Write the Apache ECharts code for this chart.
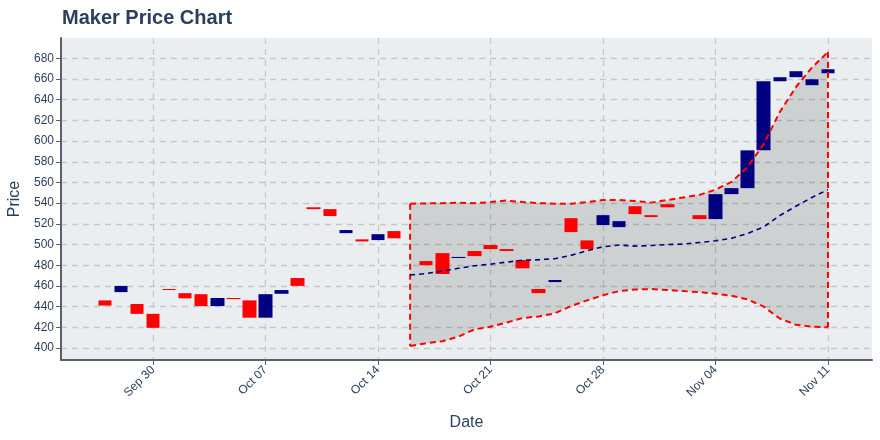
<!DOCTYPE html>
<html><head><meta charset="utf-8">
<script src="https://cdn.jsdelivr.net/npm/echarts@6/dist/echarts.min.js"></script>
<style>html,body{margin:0;padding:0;background:#fff}#c{width:880px;height:440px}</style>
</head><body><div id="c"></div>
<script>
const candleDates = ['2019-09-27','2019-09-28','2019-09-29','2019-09-30','2019-10-01','2019-10-02','2019-10-03','2019-10-04','2019-10-05','2019-10-06','2019-10-07','2019-10-08','2019-10-09','2019-10-10','2019-10-11','2019-10-12','2019-10-13','2019-10-14','2019-10-15','2019-10-17','2019-10-18','2019-10-19','2019-10-20','2019-10-21','2019-10-22','2019-10-23','2019-10-24','2019-10-25','2019-10-26','2019-10-27','2019-10-28','2019-10-29','2019-10-30','2019-10-31','2019-11-01','2019-11-03','2019-11-04','2019-11-05','2019-11-06','2019-11-07','2019-11-08','2019-11-09','2019-11-10','2019-11-11'];
const opens  = [446,454,442.5,433,457,453,452,440.5,448.3,446,429.3,452.4,467.6,536,534.2,511,505,504.3,513,484,491.7,487,493.7,499.5,495.6,485,457,463.7,525.5,504,518.8,516.8,537,528.4,539,528.4,524.6,548.7,554.5,591,657.8,661.7,654,665.5];
const closes = [441,460,433,419.5,456,448,440.5,448.3,447.3,429.3,452,456,460,534.2,527.5,514,503,510,506,480,471.5,488,488.8,495.6,493.7,477,453,465.7,512,495.6,528.4,522.6,529.4,526.5,536,524.6,548.7,554.5,591,657.8,661.7,667.5,659.7,669.4];

const bandDates = ['2019-10-16','2019-10-17','2019-10-18','2019-10-19','2019-10-20','2019-10-21','2019-10-22','2019-10-23','2019-10-24','2019-10-25','2019-10-26','2019-10-27','2019-10-28','2019-10-29','2019-10-30','2019-10-31','2019-11-01','2019-11-02','2019-11-03','2019-11-04','2019-11-05','2019-11-06','2019-11-07','2019-11-08','2019-11-09','2019-11-10','2019-11-11'];
const upperBand  = [539.5,539.7,540,540.3,540,541,542.5,541,540,539.5,539.5,541,543,543,542,540.5,543,545.5,548,553,560.5,575,597,628,652,671,686];
const middleBand = [470.5,472,474.3,477,479.5,481,483,484.8,485.3,486.3,489.5,494,497.8,499.5,498.5,499,500,500.4,502,503.6,506,510.7,517,528,537,545.5,553];
const lowerBand  = [402,404.5,406.5,411,418,420.5,424.5,429,430.5,433.5,440.5,446,451,455,456.5,457,456,455,454,452.5,450.5,447,440,428.5,422.5,420.5,420];

const xTickDates = ['2019-09-30','2019-10-07','2019-10-14','2019-10-21','2019-10-28','2019-11-04','2019-11-11'];
const yTicks = [400,420,440,460,480,500,520,540,560,580,600,620,640,660,680];
const monthNames = ['Jan','Feb','Mar','Apr','May','Jun','Jul','Aug','Sep','Oct','Nov','Dec'];

const DAY = 86400000;
const utc = s => { const p = s.split('-').map(Number); return Date.UTC(p[0], p[1] - 1, p[2]); };
const REF = utc('2019-09-30');
const dx = s => Math.round((utc(s) - REF) / DAY);   // day offset used on the x scale
const fromDx = v => new Date(REF + v * DAY);

const candleData = candleDates.map((d, i) => [dx(d), opens[i], closes[i], Math.min(opens[i], closes[i]), Math.max(opens[i], closes[i])]);
const bt = bandDates.map(dx);
const bandData = bt.map((t, i) => [t, upperBand[i], lowerBand[i]]);
const ink = '#2a3f5f';
const axisInk = '#56606e';
const font = 'Liberation Sans, Arial, sans-serif';
const gridDash = {color: '#c6c8ca', width: 1.3, type: [6, 5]};
const redDash = {color: '#ff0000', width: 2, type: [6, 4]};
const xTicks = xTickDates.map(dx);

const chart = echarts.init(document.getElementById('c'), null, {renderer: 'canvas'});
chart.setOption({
  animation: false,
  backgroundColor: '#ffffff',
  title: {text: 'Maker Price Chart', left: 57, top: 3, textStyle: {fontFamily: font, fontSize: 20, fontWeight: 'bold', color: ink}},
  grid: {left: 61, right: 8, top: 38, bottom: 80, show: true, backgroundColor: '#ebeef0', borderWidth: 0,
    containLabel: false, outerBoundsMode: 'none'},
  xAxis: {
    type: 'value',
    min: -5.725, max: dx('2019-11-11') + 2.74,
    name: 'Date', nameLocation: 'middle', nameGap: 55,
    nameTextStyle: {fontFamily: font, fontSize: 16, color: ink},
    axisLine: {show: true, onZero: false, lineStyle: {color: axisInk, width: 2}},
    axisTick: {show: true, length: 5, customValues: xTicks, lineStyle: {color: axisInk}},
    axisLabel: {customValues: xTicks, rotate: 45, margin: 8, fontFamily: font, fontSize: 12, color: ink,
      formatter: v => { const d = fromDx(v); return monthNames[d.getUTCMonth()] + ' ' + String(d.getUTCDate()).padStart(2, '0'); }},
    splitLine: {show: true, lineStyle: gridDash}
  },
  yAxis: {
    type: 'value', min: 388.4, max: 699.6,
    name: 'Price', nameLocation: 'middle', nameGap: 37,
    nameTextStyle: {fontFamily: font, fontSize: 16, color: ink},
    axisLine: {show: true, onZero: false, lineStyle: {color: axisInk, width: 2}},
    axisTick: {show: true, length: 5, customValues: yTicks, lineStyle: {color: axisInk}},
    axisLabel: {customValues: yTicks, margin: 7, fontFamily: font, fontSize: 12, color: ink},
    splitLine: {show: true, lineStyle: gridDash}
  },
  series: [
    {type: 'candlestick', data: candleData, barWidth: 14,
      itemStyle: {color: '#000080', color0: '#ff0000', borderColor: '#000080', borderColor0: '#ff0000', borderWidth: 0}},
    {type: 'custom', name: 'bandFill', data: bandData, encode: {x: 0, y: [1, 2]},
      renderItem: (params, api) => {
        if (params.dataIndex !== 0) return null;
        const pts = [];
        for (let i = 0; i < bandData.length; i++) pts.push(api.coord([bandData[i][0], bandData[i][1]]));
        for (let i = bandData.length - 1; i >= 0; i--) pts.push(api.coord([bandData[i][0], bandData[i][2]]));
        return {type: 'polygon', shape: {points: pts}, style: {fill: 'rgba(0,0,0,0.12)', stroke: 'none'}};
      }},
    {type: 'line', name: 'upper', data: bt.map((t, i) => [t, upperBand[i]]), symbol: 'none', lineStyle: redDash},
    {type: 'line', name: 'lower', data: bt.map((t, i) => [t, lowerBand[i]]), symbol: 'none', lineStyle: redDash},
    {type: 'line', name: 'startEdge', data: [[bt[0], upperBand[0]], [bt[0], lowerBand[0]]], symbol: 'none', lineStyle: redDash},
    {type: 'line', name: 'endEdge', data: [[bt[bt.length-1], upperBand[bt.length-1]], [bt[bt.length-1], lowerBand[bt.length-1]]], symbol: 'none', lineStyle: redDash},
    {type: 'line', name: 'middle', data: bt.map((t, i) => [t, middleBand[i]]), symbol: 'none',
      lineStyle: {color: '#000080', width: 1.6, type: [5, 4]}}
  ]
});
</script></body></html>
